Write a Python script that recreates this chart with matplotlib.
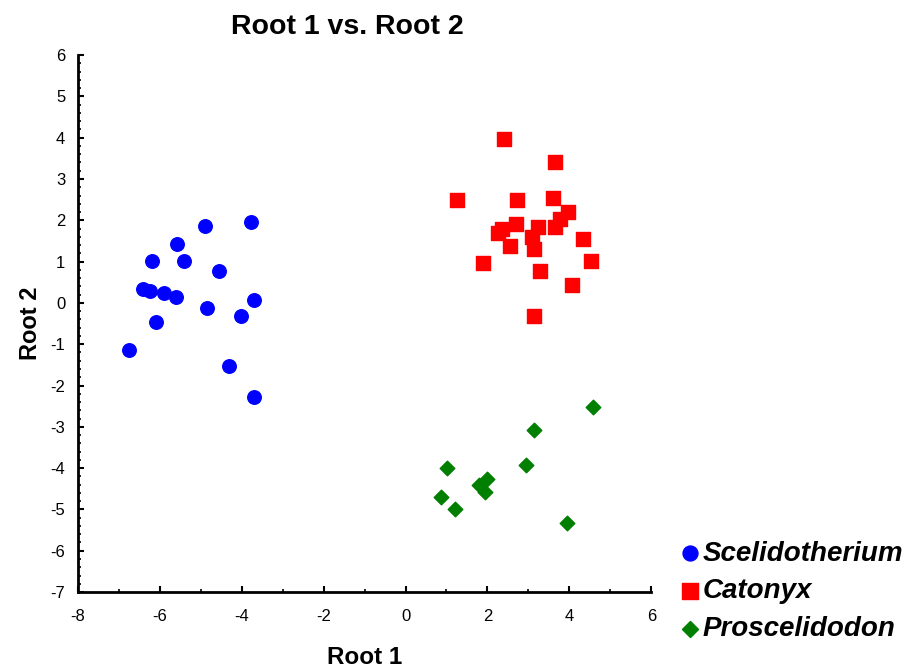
import matplotlib
matplotlib.use("Agg")
import matplotlib.pyplot as plt
from matplotlib.ticker import MultipleLocator

plt.rcParams['font.family'] = ['Liberation Sans', 'DejaVu Sans']
plt.rcParams['axes.unicode_minus'] = False

scel_x = [-4.90, -3.78, -5.57, -6.19, -5.41, -4.55, -6.41, -6.24, -5.90, -5.61,
          -3.69, -4.85, -4.02, -6.08, -6.76, -4.31, -3.69]
scel_y = [1.86, 1.96, 1.43, 1.01, 1.01, 0.77, 0.34, 0.29, 0.24, 0.15,
          0.06, -0.13, -0.31, -0.47, -1.14, -1.52, -2.28]

cat_x = [2.41, 3.66, 1.26, 2.71, 3.61, 3.96, 3.77, 2.70, 3.66, 3.23, 2.36,
         2.25, 3.08, 4.34, 2.55, 3.13, 1.89, 4.54, 3.28, 4.06, 3.13]
cat_y = [3.97, 3.40, 2.49, 2.49, 2.53, 2.20, 2.04, 1.92, 1.83, 1.83, 1.79,
         1.69, 1.59, 1.54, 1.38, 1.31, 0.96, 1.01, 0.77, 0.44, -0.31]

pros_x = [4.57, 3.13, 1.01, 2.93, 1.98, 1.79, 1.93, 0.87, 1.20, 3.94]
pros_y = [-2.51, -3.08, -3.99, -3.93, -4.26, -4.42, -4.57, -4.69, -4.98, -5.34]

names = ["Scelidotherium", "Catonyx", "Proscelidodon"]

fig = plt.figure(figsize=(9.16, 6.72), dpi=100)
ax = fig.add_axes([0.085, 0.119, 0.626, 0.799])

ax.scatter(scel_x, scel_y, s=95, marker='o', color='#0000ff', label=names[0], zorder=3)
ax.scatter(cat_x, cat_y, s=110, marker='s', color='#ff0000', label=names[1], zorder=3)
ax.scatter(pros_x, pros_y, s=55, marker='D', color='#007f00', label=names[2], zorder=3)

ax.set_xlim(-8, 6)
ax.set_ylim(-7, 6)
ax.xaxis.set_major_locator(MultipleLocator(2))
ax.xaxis.set_minor_locator(MultipleLocator(1))
ax.yaxis.set_major_locator(MultipleLocator(1))
ax.yaxis.set_minor_locator(MultipleLocator(0.2))
for s in ['top', 'right']:
    ax.spines[s].set_visible(False)
for s in ['left', 'bottom']:
    ax.spines[s].set_linewidth(2)
ax.tick_params(which='major', direction='in', length=4, width=1.5, labelsize=12)
ax.tick_params(axis='x', which='major', pad=12)
ax.tick_params(axis='y', which='major', pad=9)
ax.tick_params(which='minor', direction='in', length=2.5, width=1.2)

ax.set_title("Root 1 vs. Root 2", fontsize=20.5, fontweight='bold', x=0.47, pad=15)
ax.set_xlabel("Root 1", fontsize=17.5, fontweight='bold', labelpad=16)
ax.set_ylabel("Root 2", fontsize=17, fontweight='bold', labelpad=6)

leg = fig.legend(loc='lower left', bbox_to_anchor=(0.728, 0.028), frameon=False,
                 prop={'size': 20, 'weight': 'bold', 'style': 'italic'},
                 handletextpad=0.0, labelspacing=0.42, handlelength=0.9,
                 borderaxespad=0.0, markerscale=1.1)

fig.savefig("out.png", dpi=100)
